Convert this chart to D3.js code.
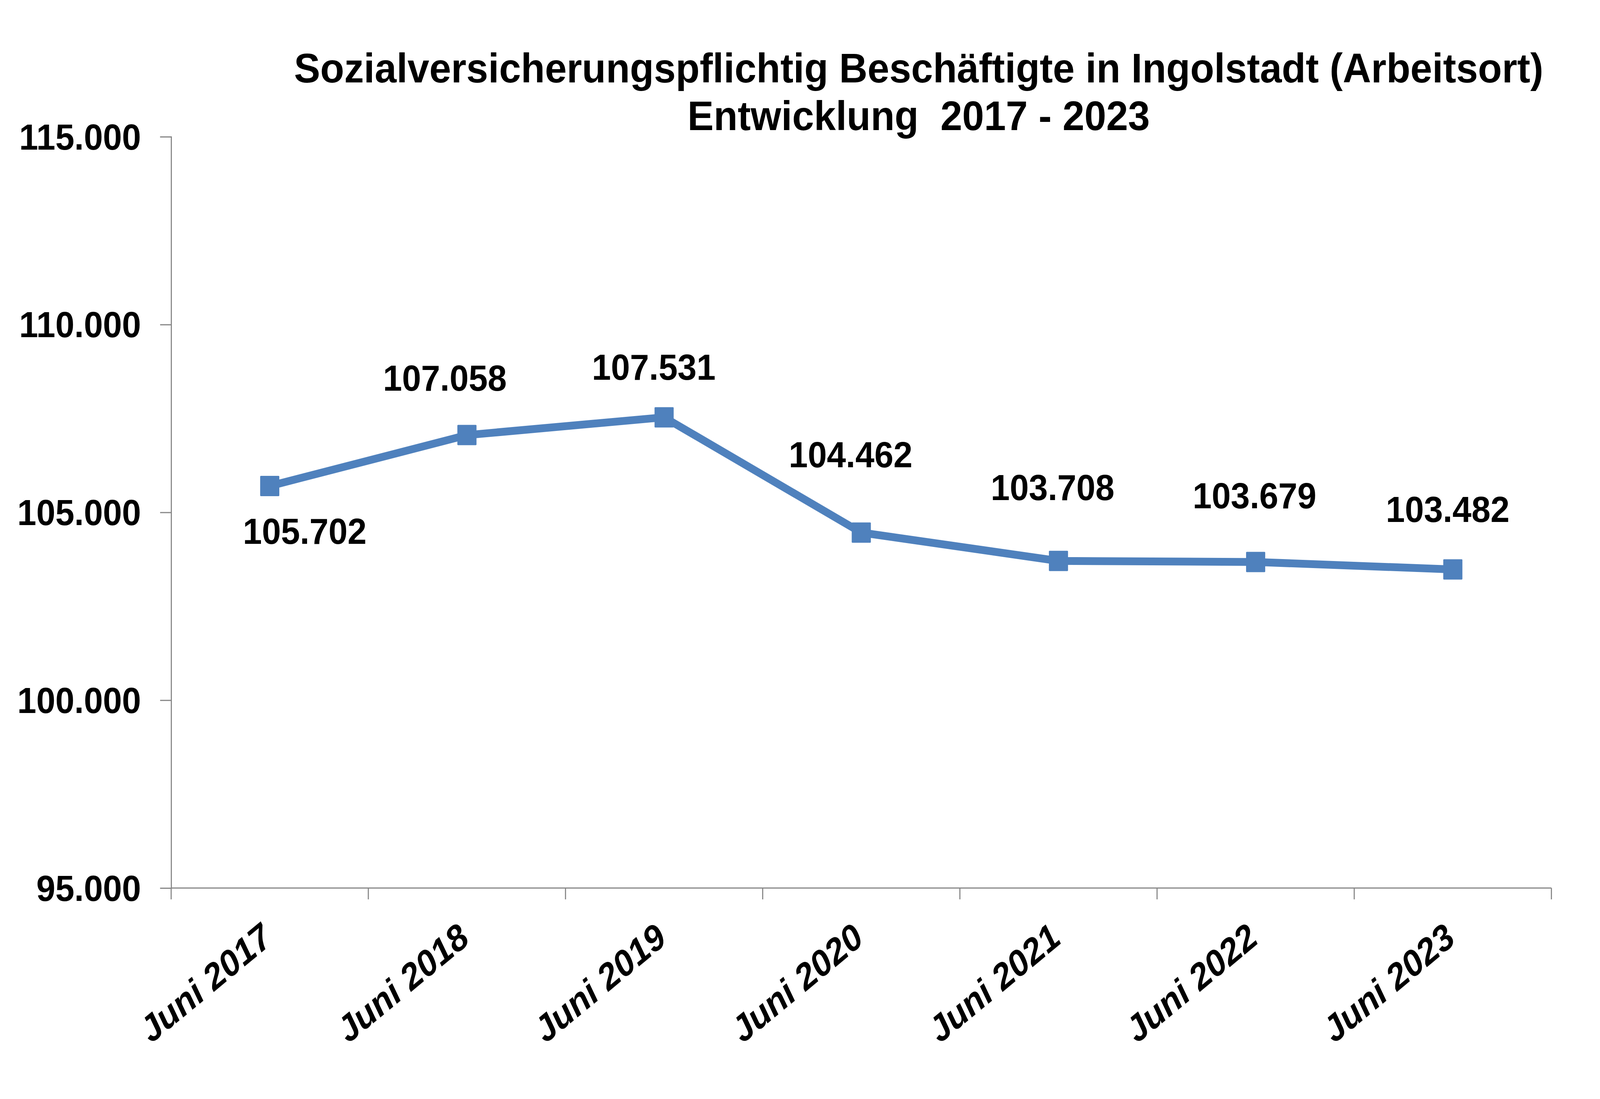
<!DOCTYPE html>
<html>
<head>
<meta charset="utf-8">
<script src="https://cdn.jsdelivr.net/npm/d3@7"></script>
<style>
  html, body { margin: 0; padding: 0; background: #ffffff; overflow: hidden; width: 100%; height: 100%; }
  svg { display: block; width: 100vw; height: 100vh; }
  text { font-family: "Liberation Sans", Arial, sans-serif; font-weight: bold; fill: #000; }
</style>
</head>
<body>
<script>
// ---------- data ----------
const categories = ["Juni 2017", "Juni 2018", "Juni 2019", "Juni 2020", "Juni 2021", "Juni 2022", "Juni 2023"];
const values = [105702, 107058, 107531, 104462, 103708, 103679, 103482];
const yTicks = [95000, 100000, 105000, 110000, 115000];
const titleLines = ["Sozialversicherungspflichtig Beschäftigte in Ingolstadt (Arbeitsort)", "Entwicklung  2017 - 2023"];

// ---------- layout ----------
const W = 4347, H = 2813;
const plot = { left: 465, right: 4215, top: 350, bottom: 2273 };
// label placement offsets relative to each marker (as moved in the original)
const labelDx = [95, -60, -28, -29, -16, -3, -14];
const labelDy = [148, -114, -96, -167, -156, -138, -121];

const blue = "#4F81BD", axisGrey = "#868686";

const fmt = v => d3.format(",")(v).replace(/,/g, ".");

const svg = d3.select("body").append("svg")
  .attr("viewBox", `0 0 ${W} ${H}`)
  .attr("preserveAspectRatio", "none");
svg.append("rect").attr("width", W).attr("height", H).attr("fill", "#fff");

const x = d3.scaleBand().domain(categories).range([plot.left, plot.right]).padding(0);
const y = d3.scaleLinear().domain([95000, 115000]).range([plot.bottom, plot.top]);
const cx = c => x(c) + x.bandwidth() / 2;

// title (size fitted to the original's line width)
const title = svg.append("g");
const t1 = title.selectAll("text").data(titleLines).join("text")
  .attr("x", 2496)
  .attr("y", (d, i) => 211 + i * 122)
  .attr("text-anchor", "middle")
  .style("font-size", "100px")
  .style("white-space", "pre")
  .text(d => d);
const w0 = t1.nodes()[0].getComputedTextLength();
const titleSize = Math.min(110, 100 * 3394 / w0);
t1.style("font-size", titleSize + "px");

// y axis
const yAxis = d3.axisLeft(y).tickValues(yTicks).tickSize(30).tickPadding(52).tickFormat(fmt);
const gy = svg.append("g").attr("transform", `translate(${plot.left},0)`).call(yAxis);
gy.select(".domain").attr("stroke", axisGrey).attr("stroke-width", 3);
gy.selectAll(".tick line").attr("stroke", axisGrey).attr("stroke-width", 3);
gy.selectAll(".tick text")
  .attr("dy", null).attr("y", 32)
  .style("font-size", "93px").attr("fill", "#000")
  .style("font-family", '"Liberation Sans", Arial, sans-serif').style("font-weight", "bold");

// x axis (category boundaries as ticks)
const gx = svg.append("g").attr("transform", `translate(0,${plot.bottom})`);
gx.append("line")
  .attr("x1", plot.left).attr("x2", plot.right)
  .attr("stroke", axisGrey).attr("stroke-width", 3);
const boundaries = categories.map(c => x(c)).concat([plot.right]);
gx.selectAll("line.tick").data(boundaries).join("line")
  .attr("class", "tick")
  .attr("x1", d => d).attr("x2", d => d)
  .attr("y1", 0).attr("y2", 29)
  .attr("stroke", axisGrey).attr("stroke-width", 3);
gx.selectAll("text").data(categories).join("text")
  .attr("transform", d => `translate(${cx(d) + 12},${138}) rotate(-38)`)
  .attr("text-anchor", "end")
  .style("font-size", "93px")
  .style("font-style", "italic")
  .text(d => d);

// line
const pts = categories.map((c, i) => ({ c, v: values[i], i }));
const line = d3.line().x(d => cx(d.c)).y(d => y(d.v));
svg.append("path").datum(pts)
  .attr("d", line)
  .attr("fill", "none")
  .attr("stroke", blue)
  .attr("stroke-width", 20)
  .attr("stroke-linejoin", "round");

// markers
const ms = 52;
svg.append("g").selectAll("rect").data(pts).join("rect")
  .attr("x", d => cx(d.c) - ms / 2)
  .attr("y", d => y(d.v) - ms / 2)
  .attr("width", ms).attr("height", ms)
  .attr("rx", 2)
  .attr("fill", blue);

// data labels
svg.append("g").selectAll("text").data(pts).join("text")
  .attr("x", d => cx(d.c) + labelDx[d.i])
  .attr("y", d => y(d.v) + labelDy[d.i])
  .attr("text-anchor", "middle")
  .style("font-size", "93px")
  .text(d => fmt(d.v));
</script>
</body>
</html>
